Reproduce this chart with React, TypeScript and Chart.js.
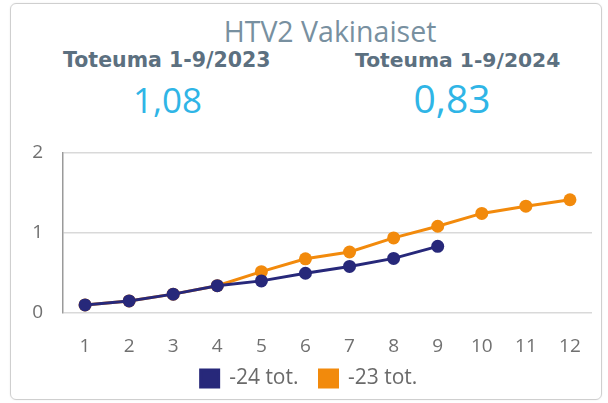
import React, { useEffect, useRef } from "react";
import { Chart, registerables } from "chart.js";

Chart.register(...registerables);

const months = ["1", "2", "3", "4", "5", "6", "7", "8", "9", "10", "11", "12"];
const values2024 = [0.1, 0.15, 0.235, 0.34, 0.4, 0.495, 0.58, 0.68, 0.83];
const values2023 = [0.1, 0.15, 0.235, 0.34, 0.515, 0.675, 0.76, 0.935, 1.08, 1.24, 1.33, 1.41];
const yTicks = [0, 1, 2];
const seriesLabels = ["-24 tot.", "-23 tot."];
const titleText = "HTV2 Vakinaiset";
const subLeft = "Toteuma 1-9/2023";
const subRight = "Toteuma 1-9/2024";
const valueLeft = "1,08";
const valueRight = "0,83";

const NAVY = "#27287a";
const ORANGE = "#f28a0c";

const legendShift = {
  id: "legendShift",
  afterLayout(chart: any) {
    const lg = chart.legend;
    if (!lg) return;
    lg.top -= 12;
    lg.bottom -= 12;
    lg.left += 13;
    lg.right += 13;
  },
};

export default function App() {
  const ref = useRef<HTMLCanvasElement | null>(null);
  useEffect(() => {
    if (!ref.current) return;
    const chart = new Chart(ref.current, {
      type: "line",
      data: {
        labels: months,
        datasets: [
          {
            label: seriesLabels[0],
            data: values2024,
            borderColor: NAVY,
            backgroundColor: NAVY,
            pointBackgroundColor: NAVY,
            pointBorderColor: NAVY,
            borderWidth: 3,
            pointRadius: 6.5,
            pointBorderWidth: 0,
            tension: 0,
          },
          {
            label: seriesLabels[1],
            data: values2023,
            borderColor: ORANGE,
            backgroundColor: ORANGE,
            pointBackgroundColor: ORANGE,
            pointBorderColor: ORANGE,
            borderWidth: 3,
            pointRadius: 6.5,
            pointBorderWidth: 0,
            tension: 0,
          },
        ],
      },
      plugins: [legendShift],
      options: {
        animation: false,
        responsive: false,
        maintainAspectRatio: false,
        events: [],
        layout: { padding: { left: 0, right: 16, top: 0, bottom: 0 } },
        plugins: {
          tooltip: { enabled: false },
          legend: {
            position: "bottom",
            labels: {
              boxWidth: 18,
              boxHeight: 17,
              padding: 21,
              color: "#6a6a6a",
              font: { family: "Open Sans", size: 21 },
            },
          },
        },
        scales: {
          x: {
            offset: true,
            afterFit: (s: any) => {
              s.height = 46;
            },
            grid: { display: false, drawTicks: false },
            border: { display: false },
            ticks: {
              padding: 22,
              color: "#707070",
              font: { family: "Open Sans", size: 19 },
              maxRotation: 0,
            },
          },
          y: {
            min: yTicks[0],
            max: yTicks[yTicks.length - 1],
            afterFit: (s: any) => {
              s.width = 63;
            },
            afterBuildTicks: (s: any) => {
              s.ticks = yTicks.map((v) => ({ value: v }));
            },
            grid: { color: "#d9d9d9", lineWidth: 1.5, drawTicks: false },
            border: { display: true, color: "#9a9a9a", width: 1.5 },
            ticks: {
              padding: 20,
              color: "#707070",
              font: { family: "Open Sans", size: 19 },
            },
          },
        },
      },
    });
    return () => chart.destroy();
  }, []);

  const abs = (s: React.CSSProperties): React.CSSProperties => ({ position: "absolute", whiteSpace: "nowrap", ...s });

  return (
    <div style={{ position: "fixed", left: 0, top: 0, width: 608, height: 403, background: "#fff", overflow: "hidden" }}>
      <div
        style={abs({
          left: 10,
          top: 3,
          width: 590,
          height: 395,
          border: "1px solid #cfcfcf",
          borderRadius: 6,
          boxShadow: "0 0 2px rgba(0,0,0,0.08)",
        })}
      />
      <div
        style={abs({
          left: 0,
          width: 660,
          top: 17,
          textAlign: "center",
          fontFamily: "Open Sans",
          fontSize: 28.5,
          lineHeight: "28px",
          color: "#7890a0",
        })}
      >
        {titleText}
      </div>
      <div
        style={abs({
          left: 63,
          top: 50,
          fontFamily: "DejaVu Sans",
          fontWeight: "bold",
          fontSize: 20.5,
          lineHeight: "20px",
          color: "#5c7080",
        })}
      >
        {subLeft}
      </div>
      <div
        style={abs({
          left: 355,
          top: 50,
          fontFamily: "DejaVu Sans",
          fontWeight: "bold",
          fontSize: 20.3,
          lineHeight: "20px",
          color: "#5c7080",
        })}
      >
        {subRight}
      </div>
      <div
        style={abs({
          left: 0,
          width: 335,
          top: 82,
          textAlign: "center",
          fontFamily: "Open Sans",
          fontSize: 35,
          lineHeight: "36px",
          color: "#2fb5e6",
        })}
      >
        {valueLeft}
      </div>
      <div
        style={abs({
          left: 0,
          width: 904,
          top: 78,
          textAlign: "center",
          fontFamily: "Open Sans",
          fontSize: 39,
          lineHeight: "40px",
          color: "#2fb5e6",
        })}
      >
        {valueRight}
      </div>
      <canvas ref={ref} width={608} height={290} style={{ position: "absolute", left: 0, top: 121, width: 608, height: 290 }} />
    </div>
  );
}
